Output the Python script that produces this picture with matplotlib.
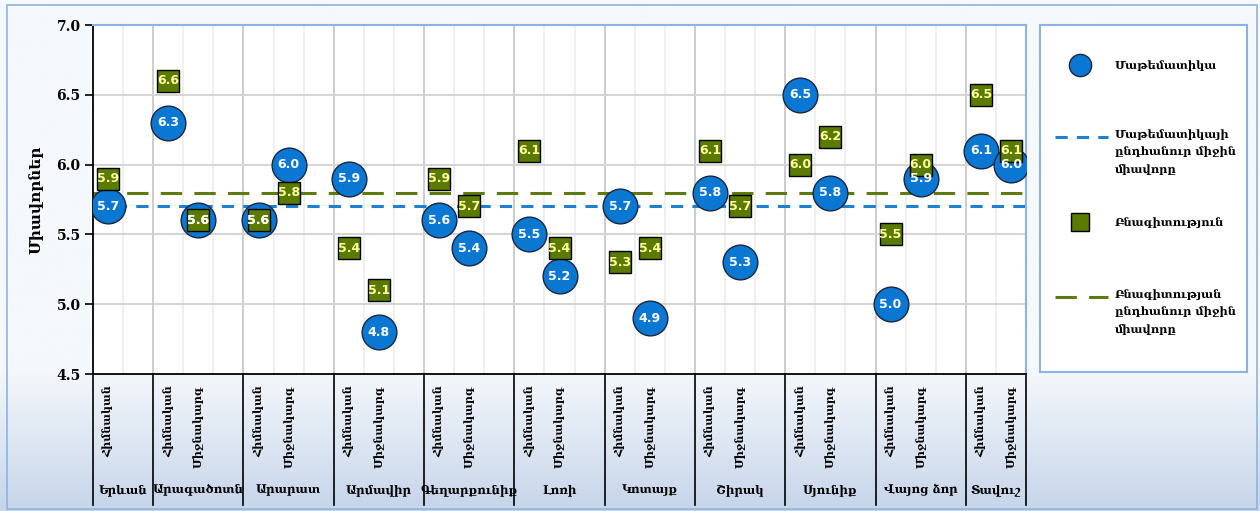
import numpy as np
import matplotlib.pyplot as plt
from matplotlib.lines import Line2D
from matplotlib.patches import Rectangle

# Données
regions = ['Երևան', 'Արագածոտն', 'Արարատ', 'Արմավիր', 'Գեղարքունիք', 'Լոռի',
           'Կոտայք', 'Շիրակ', 'Սյունիք', 'Վայոց ձոր', 'Տավուշ']
levels = ['Հիմնական', 'Միջնակարգ']
math_basic = [5.7, 6.3, 5.6, 5.9, 5.6, 5.5, 5.7, 5.8, 6.5, 5.0, 6.1]
math_second = [None, 5.6, 6.0, 4.8, 5.4, 5.2, 4.9, 5.3, 5.8, 5.9, 6.0]
sci_basic = [5.9, 6.6, 5.6, 5.4, 5.9, 6.1, 5.3, 6.1, 6.0, 5.5, 6.5]
sci_second = [None, 5.6, 5.8, 5.1, 5.7, 5.4, 5.4, 5.7, 6.2, 6.0, 6.1]
math_avg = 5.7
sci_avg = 5.8

y_label = 'Միավորներ'
legend_labels = ['Մաթեմատիկա', 'Մաթեմատիկայի\nընդհանուր միջին\nմիավորը',
                 'Բնագիտություն', 'Բնագիտության\nընդհանուր միջին\nմիավորը']

# Couleurs
c_math = '#0a78d2'
c_sci = '#5b7a00'
c_math_line = '#1f80d0'
c_sci_line = '#5f7a10'
c_border = '#8db3e2'
serif = ['DejaVu Serif', 'DejaVu Sans']

# Positions des catégories (groupes de 3 emplacements, le premier groupe n'en a que 2)
group_slots = [2] + [3] * 9 + [2]
edges = np.concatenate([[0], np.cumsum(group_slots)])
x_basic = edges[:-1] + 0.5
x_second = edges[:-1] + 1.5
n_slots = edges[-1]

fig = plt.figure(figsize=(12.6, 5.11), dpi=100)

# Fond dégradé
bg = fig.add_axes([0, 0, 1, 1], zorder=-10)
rows = np.arange(511)
t = np.clip((rows - 370) / (511 - 370), 0, 1)[:, None]
top = np.array([0xf5, 0xf8, 0xfc]) / 255
bot = np.array([0xc6, 0xd4, 0xe9]) / 255
grad = (top * (1 - t) + bot * t)[:, None, :]
bg.imshow(np.repeat(grad, 4, axis=1), aspect='auto', extent=[0, 1, 0, 1], origin='upper')
bg.add_patch(Rectangle((0.0055, 0.004), 0.992, 0.986, fill=False, ec=c_border, lw=1.2,
                       transform=bg.transAxes))
bg.set_axis_off()

ax = fig.add_axes([93 / 1260, 1 - 374 / 511, 933 / 1260, 349 / 511])
ax.set_facecolor('white')
ax.set_xlim(0, n_slots)
ax.set_ylim(4.5, 7.0)

# Grille
for xs in range(1, n_slots):
    if xs in edges:
        ax.axvline(xs, color='#cccccc', lw=1.4, zorder=0)
    else:
        ax.axvline(xs, color='#ececec', lw=1.2, zorder=0)
for yv in [5.0, 5.5, 6.0, 6.5]:
    ax.axhline(yv, color='#d4d4d4', lw=1.4, zorder=0)

# Moyennes
ax.axhline(sci_avg, color=c_sci_line, lw=2.2, dashes=(7, 4), zorder=1)
ax.axhline(math_avg, color=c_math_line, lw=2.2, dashes=(4, 3), zorder=1)

# Points
xm = list(x_basic) + [x for x, v in zip(x_second, math_second) if v is not None]
ym = math_basic + [v for v in math_second if v is not None]
xsc = list(x_basic) + [x for x, v in zip(x_second, sci_second) if v is not None]
ysc = sci_basic + [v for v in sci_second if v is not None]

ax.plot(xm, ym, 'o', ms=25, mfc=c_math, mec='#1c2540', mew=1.0, ls='none', zorder=3)
ax.plot(xsc, ysc, 's', ms=16, mfc=c_sci, mec='black', mew=1.0, ls='none', zorder=5)
for x, v in zip(xsc, ysc):
    ax.text(x, v, f'{v:.1f}', color='#ffffa0', ha='center', va='center', fontsize=9,
            fontweight='bold', zorder=6)
for x, v in zip(xm, ym):
    ax.text(x, v, f'{v:.1f}', color='white', ha='center', va='center', fontsize=9,
            fontweight='bold', zorder=7)

# Axes
ax.spines['left'].set_color('black')
ax.spines['bottom'].set_color('black')
ax.spines['left'].set_linewidth(1.3)
ax.spines['bottom'].set_linewidth(1.3)
ax.spines['top'].set_color(c_border)
ax.spines['right'].set_color(c_border)
ax.spines['top'].set_linewidth(1.5)
ax.spines['right'].set_linewidth(1.5)
ax.set_yticks([4.5, 5.0, 5.5, 6.0, 6.5, 7.0])
ax.set_yticklabels([f'{v:.1f}' for v in [4.5, 5.0, 5.5, 6.0, 6.5, 7.0]],
                   fontsize=10, fontweight='bold', family=serif)
ax.tick_params(axis='y', length=6, width=1.2, pad=3)
ax.set_xticks([])
ax.set_ylabel(y_label, fontsize=11, fontweight='bold', family=serif, labelpad=9)

# Étiquettes de catégories à deux niveaux
trans = ax.get_xaxis_transform()
for e in edges:
    ax.plot([e, e], [0, -131 / 349], color='black', lw=1.2, transform=trans, clip_on=False)
for i, r in enumerate(regions):
    ax.text(x_basic[i], -11 / 349, levels[0], rotation=90, ha='center', va='top', fontsize=8,
            fontweight='bold', family=serif, transform=trans)
    if math_second[i] is not None:
        ax.text(x_second[i], -11 / 349, levels[1], rotation=90, ha='center', va='top', fontsize=8,
                fontweight='bold', family=serif, transform=trans)
    ax.text((edges[i] + edges[i + 1]) / 2, -116 / 349, r, ha='center', va='center', fontsize=8.5,
            fontweight='bold', family=serif, transform=trans)

# Légende
lg = fig.add_axes([1040 / 1260, 1 - 372 / 511, 207 / 1260, 347 / 511])
lg.set_xlim(1040, 1247)
lg.set_ylim(372, 25)
lg.set_xticks([])
lg.set_yticks([])
for s in lg.spines.values():
    s.set_color(c_border)
    s.set_linewidth(1.5)
lg.add_line(Line2D([1080], [65], marker='o', ms=16, mfc=c_math, mec='#1c2540', ls='none'))
lg.add_line(Line2D([1055, 1108], [137, 137], color=c_math_line, lw=2.2, dashes=(4, 3)))
lg.add_line(Line2D([1080], [222], marker='s', ms=13, mfc=c_sci, mec='black', ls='none'))
lg.add_line(Line2D([1055, 1108], [297, 297], color=c_sci_line, lw=2.2, dashes=(7, 4)))
for yy, lab in zip([65, 129, 222, 289], legend_labels):
    lg.text(1115, yy, lab, ha='left', va='center' if '\n' not in lab else 'top', fontsize=8.2,
            fontweight='bold', family=serif, linespacing=1.7)

fig.savefig('out.png', dpi=100)
